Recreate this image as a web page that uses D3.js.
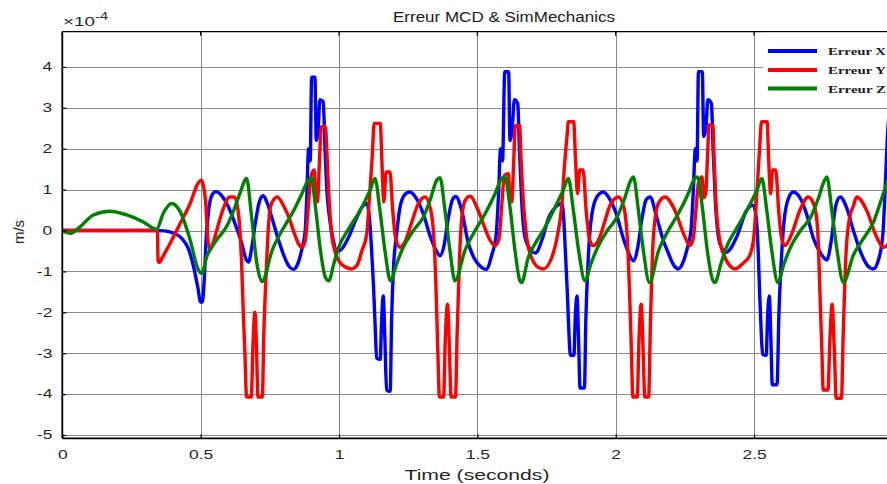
<!DOCTYPE html>
<html>
<head>
<meta charset="utf-8">
<script src="https://cdn.jsdelivr.net/npm/d3@7/dist/d3.min.js"></script>
<style>
  html, body { margin: 0; padding: 0; background: #ffffff; overflow: hidden; }
  svg { display: block; }
</style>
</head>
<body>
<svg id="chart" width="887" height="484"></svg>
<script>
// Error signals, [time (s), value (×1e-4 m/s)]
const errX = [
  [0,0],[0.2,0],[0.34,0],[0.37,-0.01],[0.4,-0.06],[0.43,-0.18],[0.456,-0.45],[0.475,-0.9],[0.49,-1.4],[0.5,-1.75],[0.506,-1.75],[0.513,-1.2],[0.52,-0.2],[0.53,0.55],[0.542,0.88],[0.555,0.95],[0.575,0.86],[0.6,0.58],[0.625,0.15],[0.648,-0.3],[0.665,-0.72],[0.673,-0.77],[0.684,-0.45],[0.698,0.2],[0.712,0.7],[0.726,0.85],
  [0.74,0.68],[0.758,0.3],[0.78,-0.2],[0.8,-0.6],[0.82,-0.88],[0.836,-0.95],[0.852,-0.8],[0.866,-0.45],[0.878,0.0],[0.884,0.9],[0.89,2.0],[0.896,1.7],[0.901,3.75],[0.913,3.75],[0.918,2.2],[0.924,2.4],[0.931,3.2],[0.943,3.15],[0.949,2.1],[0.956,1.0],[0.966,0.3],[0.978,-0.2],[0.993,-0.5],[1.005,-0.48],[1.035,-0.16],[1.06,0.25],[1.083,0.57],[1.1,0.66],[1.11,0.3],[1.118,-0.5],[1.125,-1.4],[1.131,-2.4],[1.136,-3.12],[1.149,-3.15],[1.154,-2.2],[1.16,-1.6],[1.166,-2.7],[1.172,-3.9],[1.185,-3.93],[1.19,-2.2],[1.197,-0.9],[1.208,-0.1],[1.22,0.55],[1.238,0.88],[1.255,0.94],[1.28,0.78],[1.305,0.4],[1.33,-0.15],[1.352,-0.5],[1.365,-0.62],[1.38,-0.35],[1.395,0.3],[1.41,0.75],[1.422,0.83],
  [1.443,0.5],[1.467,-0.3],[1.492,-0.72],[1.515,-0.9],[1.532,-0.95],[1.552,-0.6],[1.568,-0.1],[1.576,0.8],[1.584,2.0],[1.591,1.7],[1.599,3.88],[1.613,3.88],[1.618,2.2],[1.626,2.5],[1.634,3.2],[1.646,3.1],[1.652,2.0],[1.66,0.74],[1.672,-0.16],[1.69,-0.45],[1.71,-0.55],[1.735,-0.2],[1.757,0.3],[1.787,0.6],[1.805,0.66],[1.812,0.3],[1.818,-0.5],[1.825,-1.5],[1.831,-2.5],[1.836,-3.05],[1.849,-3.05],[1.854,-2.1],[1.86,-1.6],[1.866,-2.7],[1.871,-3.85],[1.887,-3.85],[1.892,-2.2],[1.9,-0.8],[1.91,0.2],[1.93,0.8],[1.955,0.94],[1.98,0.75],[2.0,0.45],[2.028,-0.2],[2.05,-0.6],[2.064,-0.74],[2.08,-0.4],[2.095,0.3],[2.11,0.75],[2.124,0.82],
  [2.148,0.33],[2.17,-0.2],[2.19,-0.55],[2.21,-0.85],[2.226,-0.94],[2.245,-0.75],[2.258,-0.45],[2.272,0.0],[2.28,0.9],[2.288,2.0],[2.294,1.7],[2.299,3.88],[2.313,3.88],[2.318,2.3],[2.326,2.5],[2.333,3.2],[2.346,3.1],[2.352,2.0],[2.36,0.74],[2.377,-0.33],[2.4,-0.53],[2.437,-0.16],[2.473,0.49],[2.497,0.62],[2.508,0.3],[2.515,-0.5],[2.52,-1.5],[2.526,-2.5],[2.531,-3.03],[2.544,-3.05],[2.549,-2.1],[2.555,-1.6],[2.561,-2.7],[2.566,-3.77],[2.583,-3.77],[2.59,-2.0],[2.598,-0.8],[2.608,0.2],[2.625,0.8],[2.642,0.94],[2.67,0.75],[2.69,0.4],[2.715,-0.2],[2.74,-0.55],[2.763,-0.72],[2.78,-0.2],[2.795,0.6],[2.811,0.82],
  [2.835,0.55],[2.859,0.0],[2.883,-0.49],[2.913,-0.88],[2.931,-0.94],[2.952,-0.66],[2.966,-0.05],[2.975,1.2],[2.982,2.3],[2.99,3.0]
];

const errY = [
  [0,0],[0.2,0],[0.344,0],[0.346,-0.75],[0.352,-0.78],[0.36,-0.68],[0.39,-0.31],[0.426,0.17],[0.462,0.66],[0.49,1.15],[0.502,1.23],[0.51,1.1],[0.518,0.7],[0.526,-0.2],[0.534,-0.48],[0.545,-0.3],[0.558,0.0],[0.582,0.54],[0.605,0.82],[0.622,0.82],[0.634,0.55],[0.642,0.0],[0.648,-0.8],[0.654,-2.0],[0.66,-3.0],[0.666,-4.07],[0.683,-4.07],[0.689,-2.8],[0.696,-2.0],[0.702,-2.9],[0.707,-4.07],[0.723,-4.07],[0.728,-2.6],[0.737,-1.0],[0.746,0.2],[0.756,0.66],[0.777,0.82],
  [0.8,0.6],[0.82,0.3],[0.84,-0.1],[0.854,-0.33],[0.866,-0.41],[0.878,-0.25],[0.888,0.5],[0.898,1.3],[0.91,1.48],[0.917,0.8],[0.922,0.7],[0.93,1.8],[0.936,2.54],[0.951,2.54],[0.957,1.8],[0.963,0.9],[0.972,0.0],[0.985,-0.5],[1.0,-0.75],[1.02,-0.88],[1.045,-0.94],[1.065,-0.85],[1.083,-0.49],[1.1,-0.1],[1.11,0.8],[1.12,1.8],[1.127,2.62],[1.149,2.62],[1.155,1.7],[1.162,0.7],[1.17,1.43],[1.184,1.43],[1.194,0.5],[1.205,-0.2],[1.22,-0.41],[1.24,-0.25],[1.257,0.08],[1.287,0.66],[1.311,0.82],[1.329,0.57],[1.342,-0.1],[1.35,-1.3],[1.357,-2.9],[1.363,-4.07],[1.378,-4.07],[1.384,-2.7],[1.392,-1.8],[1.399,-2.9],[1.405,-4.07],[1.421,-4.07],[1.427,-2.5],[1.436,-0.6],[1.447,0.5],[1.46,0.78],[1.473,0.84],
  [1.503,0.49],[1.525,0.1],[1.54,-0.16],[1.564,-0.37],[1.578,-0.2],[1.588,0.6],[1.598,1.35],[1.612,1.39],[1.618,0.8],[1.624,0.7],[1.632,1.8],[1.637,2.56],[1.653,2.56],[1.658,1.72],[1.666,0.74],[1.678,-0.16],[1.696,-0.66],[1.72,-0.9],[1.738,-0.94],[1.769,-0.66],[1.79,-0.1],[1.805,0.6],[1.815,1.6],[1.824,2.3],[1.829,2.66],[1.848,2.66],[1.855,1.7],[1.862,0.9],[1.87,1.48],[1.882,1.48],[1.893,0.5],[1.905,-0.2],[1.919,-0.37],[1.94,-0.2],[1.955,0.1],[1.98,0.62],[2.01,0.82],[2.03,0.55],[2.042,-0.2],[2.05,-1.5],[2.057,-3.0],[2.062,-4.07],[2.078,-4.07],[2.084,-2.7],[2.092,-1.8],[2.099,-2.9],[2.105,-4.07],[2.119,-4.07],[2.125,-2.4],[2.136,-0.16],[2.154,0.66],[2.178,0.82],
  [2.214,0.49],[2.25,-0.16],[2.268,-0.37],[2.28,-0.2],[2.29,0.5],[2.3,1.2],[2.312,1.31],[2.318,0.8],[2.325,0.9],[2.333,2.0],[2.337,2.58],[2.351,2.58],[2.356,1.7],[2.363,0.6],[2.375,-0.2],[2.395,-0.66],[2.415,-0.88],[2.431,-0.94],[2.46,-0.8],[2.485,-0.6],[2.5,-0.1],[2.51,0.9],[2.52,2.0],[2.527,2.66],[2.547,2.66],[2.553,1.7],[2.56,0.9],[2.567,1.48],[2.578,1.48],[2.59,0.4],[2.6,-0.2],[2.612,-0.37],[2.635,-0.1],[2.666,0.5],[2.696,0.82],[2.718,0.6],[2.73,0.0],[2.738,-1.5],[2.745,-2.9],[2.75,-3.9],[2.767,-3.9],[2.774,-2.7],[2.782,-1.8],[2.79,-2.9],[2.797,-4.1],[2.816,-4.1],[2.822,-2.6],[2.832,-0.6],[2.845,0.3],[2.859,0.6],[2.871,0.82],
  [2.907,0.49],[2.943,-0.16],[2.967,-0.41],[2.99,-0.3]
];

const errZ = [
  [0,0],[0.028,-0.07],[0.064,0.09],[0.112,0.38],[0.172,0.47],[0.233,0.38],[0.293,0.21],[0.341,0.03],[0.365,0.42],[0.395,0.66],[0.426,0.46],[0.462,-0.23],[0.492,-0.97],[0.504,-1.05],[0.522,-0.64],[0.558,-0.23],[0.594,0.1],[0.62,0.5],[0.642,0.91],[0.666,1.27],[0.684,0.34],[0.703,-0.8],[0.722,-1.25],
  [0.758,-0.49],[0.794,0.0],[0.83,0.41],[0.866,0.9],[0.888,1.22],[0.9,1.29],[0.915,0.57],[0.933,-0.49],[0.951,-1.15],[0.963,-1.23],[0.981,-0.82],[0.999,-0.41],[1.035,0.04],[1.083,0.57],[1.112,0.98],[1.13,1.27],[1.148,0.49],[1.166,-0.49],[1.186,-1.23],[1.208,-0.82],[1.232,-0.41],[1.269,0.0],[1.305,0.33],[1.329,0.74],[1.353,1.23],[1.365,1.29],[1.383,0.49],[1.401,-0.49],[1.419,-1.23],
  [1.455,-0.49],[1.492,0.0],[1.528,0.41],[1.564,0.9],[1.588,1.27],[1.6,1.31],[1.618,0.57],[1.636,-0.49],[1.654,-1.23],[1.66,-1.27],[1.684,-0.66],[1.708,-0.33],[1.745,0.08],[1.781,0.57],[1.81,0.98],[1.829,1.27],[1.847,0.49],[1.866,-0.49],[1.889,-1.23],[1.91,-0.82],[1.935,-0.41],[1.97,0.0],[2.005,0.33],[2.03,0.74],[2.055,1.23],[2.064,1.31],[2.082,0.49],[2.1,-0.49],[2.122,-1.27],
  [2.155,-0.49],[2.19,0.0],[2.226,0.41],[2.262,0.9],[2.285,1.27],[2.295,1.31],[2.313,0.57],[2.331,-0.49],[2.35,-1.2],[2.359,-1.27],[2.38,-0.82],[2.4,-0.41],[2.436,0.04],[2.48,0.57],[2.51,0.98],[2.528,1.27],[2.546,0.49],[2.564,-0.49],[2.586,-1.27],[2.608,-0.82],[2.632,-0.41],[2.668,0.0],[2.705,0.33],[2.73,0.74],[2.755,1.23],[2.763,1.31],[2.781,0.49],[2.8,-0.49],[2.823,-1.27],
  [2.859,-0.6],[2.895,-0.2],[2.931,0.2],[2.967,0.9],[2.985,1.25]
];

const seriesNames = ["Erreur X", "Erreur Y", "Erreur Z"];
const seriesColors = ["#0000ff", "#ff0000", "#008000"];
const xTicks = [0, 0.5, 1, 1.5, 2, 2.5, 3];
const xTickLabels = ["0", "0.5", "1", "1.5", "2", "2.5", "3"];
const yTicks = [-5, -4, -3, -2, -1, 0, 1, 2, 3, 4];
const yTickLabels = ["-5", "-4", "-3", "-2", "-1", "0", "1", "2", "3", "4"];

const svg = d3.select("#chart");
const box = { left: 62.3, right: 892.4, top: 31.7, bottom: 438.3 };

const x = d3.scaleLinear().domain([0, 3]).range([box.left, box.right]);
const y = d3.scaleLinear().domain([-5.08, 4.86]).range([box.bottom, box.top]);

// stretch a text element horizontally by a factor
function widen(sel, k) {
  sel.each(function () {
    const w = this.getComputedTextLength();
    d3.select(this).attr("textLength", w * k).attr("lengthAdjust", "spacingAndGlyphs");
  });
}

// grid
const grid = svg.append("g").attr("stroke", "#8a8a8a").attr("stroke-width", 1);
grid.selectAll(".gx").data(xTicks).join("line")
  .attr("x1", d => Math.round(x(d)) + 0.5).attr("x2", d => Math.round(x(d)) + 0.5)
  .attr("y1", box.top).attr("y2", box.bottom);
grid.selectAll(".gy").data(yTicks).join("line")
  .attr("x1", box.left).attr("x2", box.right)
  .attr("y1", d => Math.round(y(d)) + 0.5).attr("y2", d => Math.round(y(d)) + 0.5);

// data lines
svg.append("clipPath").attr("id", "plotArea").append("rect")
  .attr("x", box.left).attr("y", box.top)
  .attr("width", box.right - box.left).attr("height", box.bottom - box.top);

const line = d3.line().x(d => x(d[0])).y(d => y(d[1])).curve(d3.curveMonotoneX);
const series = [errX, errY, errZ];
svg.append("g").attr("clip-path", "url(#plotArea)")
  .selectAll("path").data(series).join("path")
  .attr("d", line)
  .attr("fill", "none")
  .attr("stroke", (d, i) => seriesColors[i])
  .attr("stroke-width", 3.4)
  .attr("stroke-linejoin", "round");

// axes
const xAxis = svg.append("g").attr("transform", `translate(0,${box.bottom})`)
  .call(d3.axisBottom(x).tickValues(xTicks).tickFormat((d, i) => xTickLabels[i])
    .tickSizeInner(-4).tickSizeOuter(0).tickPadding(12));
const yAxis = svg.append("g").attr("transform", `translate(${box.left},0)`)
  .call(d3.axisLeft(y).tickValues(yTicks).tickFormat((d, i) => yTickLabels[i])
    .tickSizeInner(-4).tickSizeOuter(0).tickPadding(10));
[xAxis, yAxis].forEach(a => {
  a.select(".domain").remove();
  a.selectAll(".tick line").attr("stroke", "#000").attr("stroke-width", 1.2);
  a.selectAll(".tick text").attr("fill", "#262626")
    .style("font-family", "'Liberation Sans', Arial, sans-serif").style("font-size", "12px");
  widen(a.selectAll(".tick text"), 1.45);
});

// top and right tick marks
const marks = svg.append("g").attr("stroke", "#000").attr("stroke-width", 1.2);
marks.selectAll(".tt").data(xTicks).join("line")
  .attr("x1", d => x(d)).attr("x2", d => x(d)).attr("y1", box.top).attr("y2", box.top + 4);
marks.selectAll(".rt").data(yTicks).join("line")
  .attr("x1", box.right - 4).attr("x2", box.right).attr("y1", d => y(d)).attr("y2", d => y(d));

// frame
const frame = svg.append("g").attr("stroke", "#000").attr("fill", "none");
frame.append("line").attr("x1", box.left).attr("x2", box.right).attr("y1", box.top).attr("y2", box.top).attr("stroke-width", 1.3);
frame.append("line").attr("x1", box.left).attr("x2", box.right).attr("y1", box.bottom).attr("y2", box.bottom).attr("stroke-width", 1.8);
frame.append("line").attr("x1", box.left).attr("x2", box.left).attr("y1", box.top).attr("y2", box.bottom).attr("stroke-width", 1.8);
frame.append("line").attr("x1", box.right).attr("x2", box.right).attr("y1", box.top).attr("y2", box.bottom).attr("stroke-width", 1.3);

// exponent
const expo = svg.append("text").attr("x", 63).attr("y", 26)
  .attr("fill", "#262626").style("font-family", "'Liberation Sans', Arial, sans-serif").style("font-size", "13px");
expo.append("tspan").text("×10");
expo.append("tspan").attr("dy", -6).style("font-size", "10px").text("-4");
expo.attr("textLength", 45).attr("lengthAdjust", "spacingAndGlyphs");

// title
const title = svg.append("text").attr("x", 504).attr("y", 22).attr("text-anchor", "middle")
  .attr("fill", "#1a1a1a").style("font-family", "'Liberation Sans', Arial, sans-serif").style("font-size", "14px")
  .text("Erreur MCD & SimMechanics");
title.attr("textLength", 222).attr("lengthAdjust", "spacingAndGlyphs");

// axis labels
svg.append("text").attr("x", 477).attr("y", 480).attr("text-anchor", "middle")
  .attr("fill", "#262626").style("font-family", "'Liberation Sans', Arial, sans-serif").style("font-size", "15px")
  .attr("textLength", 145).attr("lengthAdjust", "spacingAndGlyphs")
  .text("Time (seconds)");
svg.append("text").attr("transform", "translate(24,232) rotate(-90)").attr("text-anchor", "middle")
  .attr("fill", "#262626").style("font-family", "'Liberation Sans', Arial, sans-serif").style("font-size", "15px")
  .text("m/s");

// legend
const legend = svg.append("g");
legend.append("rect").attr("x", 763).attr("y", box.top + 1).attr("width", 140).attr("height", 68)
  .attr("fill", "#fff").attr("stroke", "none");
const rows = legend.selectAll(".row").data(seriesNames).join("g")
  .attr("transform", (d, i) => `translate(0,${[51, 70, 88.5][i]})`);
rows.append("line").attr("x1", 768).attr("x2", 817).attr("y1", 0).attr("y2", 0)
  .attr("stroke", (d, i) => seriesColors[i]).attr("stroke-width", 4);
rows.append("text").attr("x", 828).attr("y", 4).text(d => d)
  .attr("fill", "#1a1a1a")
  .style("font-family", "'Liberation Serif', 'Times New Roman', serif").style("font-size", "11px").style("font-weight", "bold")
  .attr("textLength", 58).attr("lengthAdjust", "spacingAndGlyphs");
</script>
</body>
</html>
